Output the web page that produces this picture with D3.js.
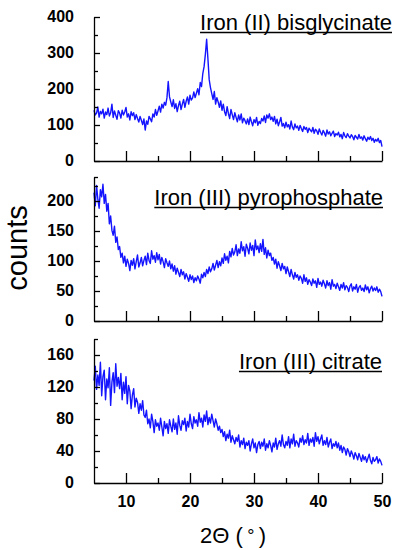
<!DOCTYPE html>
<html>
<head>
<meta charset="utf-8">
<script src="https://cdn.jsdelivr.net/npm/d3@7"></script>
<style>
  html, body { margin: 0; padding: 0; background: #fff; }
  svg { display: block; font-family: "Liberation Sans", Arial, sans-serif; }
  .axis path, .axis line { stroke: #000; stroke-width: 1.3; }
  .axis text { font-size: 16px; font-weight: bold; fill: #000; font-family: "Liberation Sans", Arial, sans-serif; }
  .panel-title { font-size: 22px; fill: #000; }
  .axis-label { fill: #000; }
</style>
</head>
<body>
<div id="chart"></div>
<script>
// 2θ sampling grid: 5° .. 50° every 0.2°
const TWO_THETA = d3.range(226).map((i) => +(5 + i * 0.2).toFixed(1));

const TITLES = ["Iron (II) bisglycinate", "Iron (III) pyrophosphate", "Iron (III) citrate"];

const BISGLYCINATE = [
  141, 128, 133, 150, 122, 138, 131, 144, 119, 136,
  129, 147, 125, 134, 158, 121, 139, 127, 116, 140,
  133, 119, 141, 128, 136, 149, 122, 131, 114, 137,
  126, 134, 115, 129, 118, 108, 124, 113, 101, 117,
  86, 111, 102, 124, 117, 109, 131, 122, 143, 127,
  139, 152, 136, 158, 147, 163, 155, 176, 221, 178,
  164, 151, 170, 146, 159, 137, 154, 166, 143, 158,
  171, 149, 166, 178, 158, 183, 169, 175, 192, 176,
  188, 201, 184, 218, 207, 243, 262, 296, 338, 284,
  226, 204, 187, 171, 193, 158, 176, 164, 149, 167,
  141, 158, 137, 126, 151, 132, 118, 143, 129, 115,
  134, 121, 109, 128, 114, 131, 106, 119, 112, 103,
  117, 101, 122, 109, 98, 115, 106, 121, 99, 110,
  104, 118, 111, 125, 107, 128, 119, 131, 115, 122,
  110, 124, 103, 116, 98, 109, 121, 97, 104, 92,
  108, 95, 101, 89, 111, 94, 87, 103, 92, 97,
  85, 99, 90, 82, 96, 88, 93, 79, 91, 86,
  81, 93, 77, 88, 84, 74, 89, 80, 72, 85,
  78, 69, 86, 75, 81, 70, 77, 83, 68, 76,
  72, 80, 67, 74, 62, 79, 70, 65, 76, 69,
  64, 73, 68, 59, 71, 66, 61, 74, 63, 67,
  58, 70, 62, 55, 66, 60, 68, 57, 63, 52,
  60, 55, 63, 51, 57, 40,
];

const PYROPHOSPHATE = [
  214, 192, 226, 203, 188, 219, 207, 228, 196, 211,
  183, 196, 162, 175, 151, 143, 158, 131, 140, 119,
  124, 106, 113, 97, 108, 91, 103, 96, 84, 101,
  93, 104, 87, 99, 110, 90, 97, 106, 92, 101,
  108, 94, 113, 101, 96, 117, 103, 109, 98, 114,
  102, 111, 95, 106, 99, 89, 104, 97, 91, 100,
  87, 95, 83, 92, 78, 88, 81, 74, 86, 77,
  82, 70, 79, 73, 66, 77, 69, 75, 64, 72,
  67, 75, 70, 63, 78, 72, 81, 74, 86, 79,
  90, 82, 87, 96, 85, 93, 101, 89, 99, 92,
  105, 96, 112, 101, 108, 97, 116, 107, 121, 110,
  115, 127, 109, 120, 113, 132, 117, 124, 108, 128,
  121, 112, 130, 118, 126, 109, 135, 119, 125, 114,
  129, 116, 136, 111, 122, 105, 118, 109, 113, 101,
  106, 95, 103, 88, 99, 92, 84, 96, 87, 91,
  79, 90, 82, 74, 86, 77, 70, 81, 73, 77,
  68, 75, 71, 63, 77, 66, 72, 61, 69, 65,
  59, 70, 63, 67, 56, 71, 61, 65, 58, 68,
  62, 55, 67, 59, 64, 53, 69, 58, 61, 54,
  63, 57, 51, 61, 55, 64, 52, 59, 56, 49,
  58, 62, 50, 57, 53, 61, 48, 56, 59, 51,
  55, 49, 60, 52, 57, 47, 54, 58, 50, 55,
  51, 57, 48, 53, 49, 41,
];

const CITRATE = [
  128, 146, 117, 135, 122, 151, 109, 133, 141, 104,
  130, 119, 144, 97, 126, 138, 113, 149, 121, 132,
  118, 137, 104, 126, 112, 133, 99, 122, 115, 93,
  110, 118, 95, 106, 101, 87, 99, 91, 103, 85,
  82, 91, 74, 80, 69, 86, 77, 63, 79, 71,
  75, 66, 81, 70, 59, 77, 68, 74, 62, 79,
  71, 64, 80, 67, 75, 61, 84, 72, 66, 78,
  73, 81, 65, 77, 70, 86, 74, 68, 83, 75,
  79, 71, 88, 76, 81, 70, 85, 77, 90, 73,
  82, 75, 86, 78, 70, 80, 74, 66, 71, 63,
  67, 58, 64, 53, 61, 56, 66, 51, 59, 54,
  49, 57, 52, 60, 45, 53, 48, 56, 43, 51,
  47, 53, 40, 49, 55, 44, 50, 38, 48, 52,
  43, 51, 46, 55, 41, 49, 44, 53, 47, 39,
  50, 45, 56, 42, 49, 53, 46, 60, 48, 44,
  52, 47, 58, 44, 55, 49, 61, 46, 53, 50,
  45, 56, 51, 59, 48, 54, 50, 62, 47, 55,
  51, 57, 46, 63, 52, 58, 49, 55, 60, 47,
  53, 48, 57, 45, 51, 55, 43, 49, 46, 52,
  44, 50, 41, 47, 38, 45, 42, 35, 43, 39,
  33, 40, 36, 30, 38, 34, 29, 37, 32, 27,
  35, 29, 33, 26, 31, 36, 28, 24, 32, 27,
  29, 33, 25, 30, 27, 22,
];

const X_TICKS = [10, 20, 30, 40, 50];
const X_MINOR = [15, 25, 35, 45];

const Y_TICKS = [[0, 100, 200, 300, 400], [0, 50, 100, 150, 200], [0, 40, 80, 120, 160]];
const Y_MINOR = [[50, 150, 250, 350], [25, 75, 125, 175, 225, 240], [20, 60, 100, 140, 180]];
const Y_MAX = [400, 240, 180];

const WIDTH = 399;
const HEIGHT = 550;
const PANEL_H = 144;
const PANEL_TOP = [17, 177, 339];
const TITLE_POS = [{ x: 392, y: 30 }, { x: 383, y: 205 }, { x: 382, y: 369 }];

const SERIES = [BISGLYCINATE, PYROPHOSPHATE, CITRATE];

const svg = d3.select("#chart")
  .append("svg")
  .attr("width", WIDTH)
  .attr("height", HEIGHT);

const x = d3.scaleLinear().domain([5, 50]).range([94, 382]);

SERIES.forEach((counts, i) => {
  const top = PANEL_TOP[i];
  const bottom = top + PANEL_H;
  const y = d3.scaleLinear().domain([0, Y_MAX[i]]).range([bottom, top]);
  const isLast = i === SERIES.length - 1;

  // —— Data line ——
  const line = d3.line()
    .x((d, j) => x(TWO_THETA[j]))
    .y((d) => y(d));

  svg.append("path")
    .datum(counts)
    .attr("fill", "none")
    .attr("stroke", "#1414ff")
    .attr("stroke-width", 1.4)
    .attr("stroke-linejoin", "round")
    .attr("d", line);

  // —— Y axis (ticks point inward) ——
  svg.append("g")
    .attr("class", "axis")
    .attr("transform", `translate(${x(5)},0)`)
    .call(d3.axisLeft(y).tickValues(Y_TICKS[i]).tickSizeInner(-6).tickSizeOuter(0).tickPadding(20))
    .call((g) => g.selectAll("text").attr("dy", "0.26em"));

  svg.append("g")
    .attr("class", "axis")
    .attr("transform", `translate(${x(5)},0)`)
    .call(d3.axisLeft(y).tickValues(Y_MINOR[i]).tickSizeInner(-4).tickSizeOuter(0).tickFormat(""))
    .call((g) => g.select(".domain").remove());

  // —— X axis ——
  svg.append("g")
    .attr("class", "axis")
    .attr("transform", `translate(0,${bottom})`)
    .call(d3.axisBottom(x).tickValues(X_TICKS).tickSizeInner(-10).tickSizeOuter(0).tickPadding(13)
      .tickFormat(isLast ? d3.format("d") : ""));

  svg.append("g")
    .attr("class", "axis")
    .attr("transform", `translate(0,${bottom})`)
    .call(d3.axisBottom(x).tickValues(X_MINOR).tickSizeInner(-5).tickSizeOuter(0).tickFormat(""))
    .call((g) => g.select(".domain").remove());

  // —— Underlined title ——
  const title = svg.append("text")
    .attr("class", "panel-title")
    .attr("x", TITLE_POS[i].x)
    .attr("y", TITLE_POS[i].y)
    .attr("text-anchor", "end")
    .text(TITLES[i]);

  const w = title.node().getComputedTextLength();
  svg.append("line")
    .attr("x1", TITLE_POS[i].x - w)
    .attr("x2", TITLE_POS[i].x)
    .attr("y1", TITLE_POS[i].y + 2.5)
    .attr("y2", TITLE_POS[i].y + 2.5)
    .attr("stroke", "#000")
    .attr("stroke-width", 1.5);
});

// —— Axis labels ——
svg.append("text")
  .attr("class", "axis-label")
  .attr("transform", "translate(27,248) rotate(-90)")
  .attr("text-anchor", "middle")
  .style("font-size", "29px")
  .text("counts");

const xLabel = svg.append("text")
  .attr("class", "axis-label")
  .attr("x", 233)
  .attr("y", 543)
  .attr("text-anchor", "middle")
  .style("font-size", "22px");

xLabel.append("tspan").text("2Θ (\u2009");
xLabel.append("tspan").style("font-size", "18px").attr("dy", "-1").text("°");
xLabel.append("tspan").attr("dy", "1").text("\u2009)");
</script>
</body>
</html>
